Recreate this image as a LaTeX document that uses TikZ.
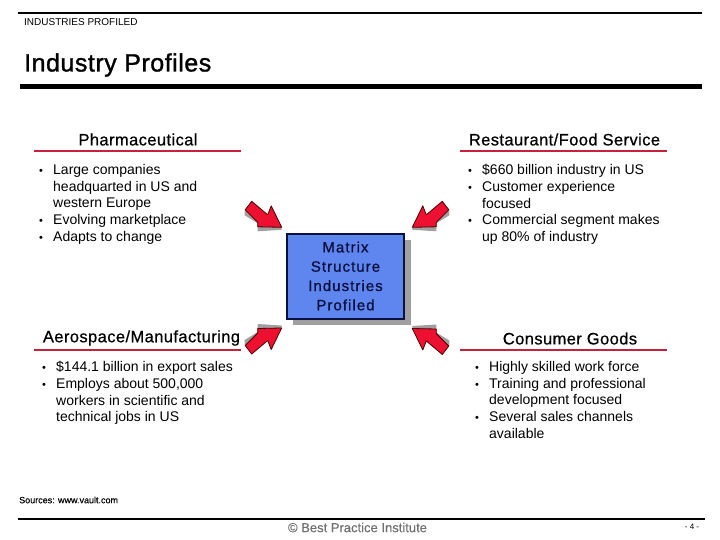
\documentclass[tikz,border=0pt]{standalone}
\usepackage{fontspec}
\setmainfont{Liberation Sans}
\usetikzlibrary{positioning}
\definecolor{boxblue}{HTML}{5F86EE}
\definecolor{boxink}{HTML}{0B1040}
\definecolor{rulered}{HTML}{C8203C}
\definecolor{arrowred}{HTML}{EE1030}
\definecolor{shadowgray}{HTML}{A0A0A0}
\definecolor{footgray}{HTML}{707070}
\newcommand{\bul}{\llap{\makebox[14pt][l]{\fontsize{11}{16.8}\selectfont\textbullet}}}
\tikzset{
	heading/.style = {inner sep=0pt, font=\fontsize{16.5}{19}\selectfont\addfontfeature{LetterSpace=2.5,FakeBold=0.6}},
	bodylist/.style = {inner sep=0pt, anchor=north west, align=left, font=\fontsize{14}{16.8}\selectfont},
	redrule/.style = {rulered, line width=2pt},
	blackrule/.style = {black, line width=2pt},
	arrowhd/.pic = {
		\fill [shadowgray] (-37,-17) -- (-37,-12) -- (-24,-4) -- (-24,4) -- (0,2.5) -- (0,0) -- cycle;
		\draw [fill=arrowred, draw=black!70!red, line width=0.8pt, line join=round]
			(-36.5,-17.5) -- (-30,-26) -- (-14,-12.5) -- (-10.5,-21.5) -- (0,0)
			-- (-24,-0.5) -- (-24,-5) -- cycle;
	}
}
\begin{document}
\begin{tikzpicture}[x=1pt, y=-1pt]
	\useasboundingbox (0,0) rectangle (720,540);
	% rules
	\draw [blackrule] (18,13) -- (702,13);
	\draw [black, line width=5pt] (20,86.5) -- (702,86.5);
	\draw [blackrule] (18,519) -- (705,519);
	\draw [redrule] (34,151) -- (241,151);
	\draw [redrule] (460,151) -- (667,151);
	\draw [redrule] (34,350) -- (241,350);
	\draw [redrule] (460,350) -- (667,350);

	\node	(section)	[inner sep=0pt, anchor=west, font=\fontsize{10}{12}\selectfont]	at (24,22.5)	{INDUSTRIES PROFILED};
	\node	(title)		[inner sep=0pt, anchor=west, font=\fontsize{25}{30}\selectfont\addfontfeature{LetterSpace=2.1,FakeBold=1.2}]	at (24,65)	{Industry Profiles};

	\node	(pharma)	[heading]	at (138,139.5)	{Pharmaceutical};
	\node	(food)		[heading]	at (564.5,139.5)	{Restaurant/Food Service};
	\node	(aero)		[heading]	at (141.5,338)	{Aerospace/Manufacturing};
	\node	(goods)		[heading]	at (570,338.5)	{Consumer Goods};

	\node	(pharmalist)	[bodylist]	at (53,164)	{\bul Large companies\\headquarted in US and\\western Europe\\\bul Evolving marketplace\\\bul Adapts to change};
	\node	(foodlist)	[bodylist]	at (482,164)	{\bul \$660 billion industry in US\\\bul Customer experience\\focused\\\bul Commercial segment makes\\up 80\% of industry};
	\node	(aerolist)	[bodylist]	at (56,361)	{\bul \$144.1 billion in export sales\\\bul Employs about 500,000\\workers in scientific and\\technical jobs in US};
	\node	(goodslist)	[bodylist]	at (489,361)	{\bul Highly skilled work force\\\bul Training and professional\\development focused\\\bul Several sales channels\\available};

	% centre box with its shadow
	\fill [shadowgray] (293,240) rectangle (411,325);
	\node	(matrix)	[draw=boxink, line width=2pt, fill=boxblue, minimum width=117pt, minimum height=85pt, inner sep=0pt, align=center, text=boxink, font=\fontsize{15}{19.3}\selectfont\addfontfeature{LetterSpace=7,FakeBold=0.9}] at (345.5,276)	{Matrix\\Structure\\Industries\\Profiled};

	\pic	(arrowTL)	at (281.7,227.3)	{arrowhd};
	\pic	(arrowTR)	[xscale=-1]		at (412.3,227.3)	{arrowhd};
	\pic	(arrowBL)	[yscale=-1]		at (281.7,328)		{arrowhd};
	\pic	(arrowBR)	[xscale=-1, yscale=-1]	at (412.3,328.5)	{arrowhd};

	\node	(sources)	[inner sep=0pt, anchor=west, font=\fontsize{9}{11}\selectfont\addfontfeature{FakeBold=0.3}]	at (19,500)	{Sources: www.vault.com};
	\node	(footer)	[inner sep=0pt, text=footgray, font=\fontsize{13}{16}\selectfont\addfontfeature{FakeBold=0.3}]	at (357.5,527.5)	{© Best Practice Institute};
	\node	(page)		[inner sep=0pt, font=\fontsize{8}{10}\selectfont]	at (692,527)	{- 4 -};
\end{tikzpicture}
\end{document}
